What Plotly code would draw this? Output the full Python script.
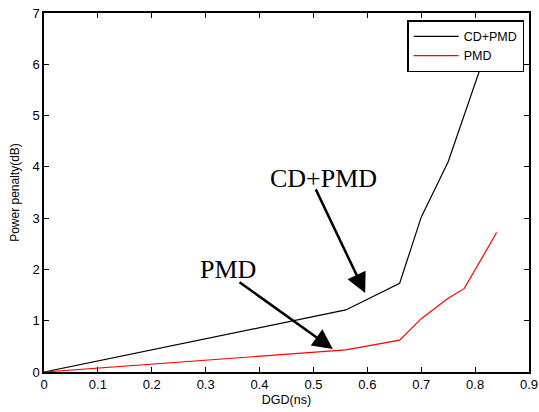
import plotly.graph_objects as go

# DGD sweep (ns) and measured power penalty (dB)
dgd_cdpmd = [0.0, 0.56, 0.66, 0.70, 0.75, 0.80, 0.84]
pp_cdpmd = [0.0, 1.21, 1.73, 3.02, 4.10, 5.62, 6.85]

dgd_pmd = [0.0, 0.56, 0.66, 0.70, 0.75, 0.78, 0.84]
pp_pmd = [0.0, 0.43, 0.62, 1.04, 1.44, 1.63, 2.72]

x_ticks = [0, 0.1, 0.2, 0.3, 0.4, 0.5, 0.6, 0.7, 0.8, 0.9]
x_tick_text = ["0", "0.1", "0.2", "0.3", "0.4", "0.5", "0.6", "0.7", "0.8", "0.9"]
y_ticks = [0, 1, 2, 3, 4, 5, 6, 7]

fig = go.Figure()
fig.add_trace(go.Scatter(x=dgd_cdpmd, y=pp_cdpmd, mode="lines", name="CD+PMD",
                         line=dict(color="black", width=1.2)))
fig.add_trace(go.Scatter(x=dgd_pmd, y=pp_pmd, mode="lines", name="PMD",
                         line=dict(color="red", width=1.2)))

# Callout labels with arrows pointing at each curve
serif = dict(family="Liberation Serif, Times New Roman, serif", size=26, color="black")
fig.add_annotation(x=0.518, y=3.78, text="CD+PMD", showarrow=False, font=serif,
                   xref="x", yref="y")
fig.add_annotation(x=0.341, y=1.99, text="PMD", showarrow=False, font=serif,
                   xref="x", yref="y")
fig.add_annotation(x=0.596, y=1.54, ax=0.503, ay=3.59, axref="x", ayref="y",
                   xref="x", yref="y", text="", showarrow=True,
                   arrowhead=2, arrowsize=1.6, arrowwidth=2.5, arrowcolor="black")
fig.add_annotation(x=0.536, y=0.45, ax=0.360, ay=1.77, axref="x", ayref="y",
                   xref="x", yref="y", text="", showarrow=True,
                   arrowhead=2, arrowsize=1.6, arrowwidth=2.5, arrowcolor="black")

axis_font = dict(family="Liberation Sans, Arial, sans-serif", size=13, color="black")
fig.update_layout(
    width=539, height=412,
    margin=dict(l=44, r=10, t=13, b=40),
    paper_bgcolor="white", plot_bgcolor="white",
    font=axis_font,
    showlegend=True,
    legend=dict(x=0.990, y=0.980, xanchor="right", yanchor="top",
                bgcolor="white", bordercolor="black", borderwidth=1.5,
                font=dict(family="Liberation Sans, Arial, sans-serif", size=12.5, color="black"),
                tracegroupgap=0, itemwidth=45),
    xaxis=dict(range=[0, 0.9], tickvals=x_ticks, ticktext=x_tick_text,
               ticks="inside", ticklen=5, tickcolor="black", tickwidth=1,
               showline=True, linecolor="black", linewidth=1.5, mirror="ticks",
               showgrid=False, zeroline=False, automargin=False,
               title=dict(text="DGD(ns)", font=dict(size=12.5), standoff=4),
               tickfont=axis_font),
    yaxis=dict(range=[0, 7], tickvals=y_ticks,
               ticks="inside", ticklen=5, tickcolor="black", tickwidth=1,
               showline=True, linecolor="black", linewidth=1.5, mirror="ticks",
               showgrid=False, zeroline=False, automargin=False,
               title=dict(text="Power penalty(dB)", font=dict(size=12), standoff=10),
               tickfont=axis_font),
)

fig.write_html("out.html")
